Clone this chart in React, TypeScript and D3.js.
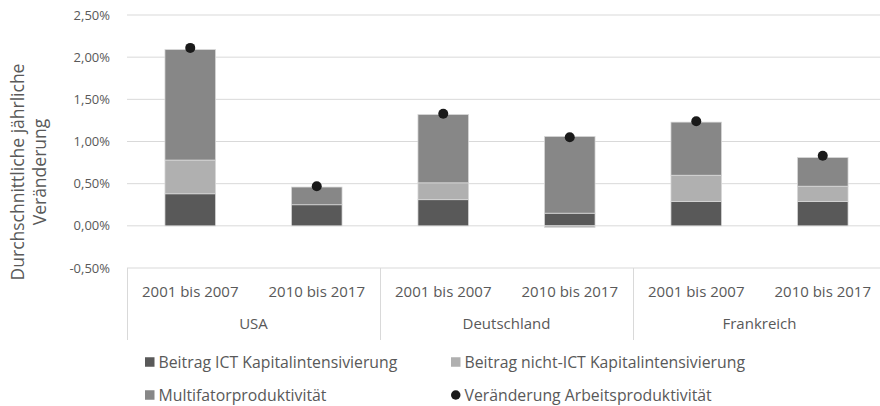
import React from "react";
import * as d3 from "d3";

const countries = ["USA", "Deutschland", "Frankreich"];
const periods = ["2001 bis 2007", "2010 bis 2017"];
const ictValues = [0.38, 0.25, 0.31, 0.15, 0.29, 0.29];
const nonIctValues = [0.40, 0.0, 0.20, -0.02, 0.31, 0.18];
const mfpValues = [1.31, 0.21, 0.81, 0.91, 0.63, 0.34];
const laborProd = [2.11, 0.47, 1.33, 1.05, 1.24, 0.83];
const yTicks = [-0.5, 0, 0.5, 1.0, 1.5, 2.0, 2.5];
const seriesNames = [
  "Beitrag ICT Kapitalintensivierung",
  "Beitrag nicht-ICT Kapitalintensivierung",
  "Multifatorproduktivität",
  "Veränderung Arbeitsproduktivität",
];
const colors = ["#595959", "#b0b0b0", "#878787", "#1a1a1a"];

const W = 880;
const H = 406;
const left = 127;
const right = 886;
const top = 15;
const bottom = 268;
const font = "'Open Sans', Lato, sans-serif";
const textColor = "#595959";

export default function App() {
  const cats = countries.flatMap((c) => periods.map((p) => `${c}|${p}`));
  const x = d3.scaleBand<string>().domain(cats).range([left, right]).paddingInner(0).paddingOuter(0);
  const y = d3.scaleLinear().domain([-0.5, 2.5]).range([bottom, top]);
  const barW = x.bandwidth() * 0.4;
  const fmt = (v: number) => d3.format(".2f")(v).replace(".", ",").replace("−", "-") + "%";

  const stacks = cats.map((c, i) => {
    const vals = [ictValues[i], nonIctValues[i], mfpValues[i]];
    let pos = 0;
    let neg = 0;
    return vals.map((v, k) => {
      let y0: number, y1: number;
      if (v >= 0) {
        y0 = pos;
        y1 = pos + v;
        pos = y1;
      } else {
        y0 = neg + v;
        y1 = neg;
        neg = y0;
      }
      return { k, y0, y1 };
    });
  });

  const groupW = x.bandwidth() * periods.length;

  return (
    <svg width={W} height={H} style={{ position: "absolute", left: 0, top: 0, fontFamily: font }}>
      <rect width={W} height={H} fill="#fff" />
      {yTicks.map((t) => (
        <g key={t}>
          {t !== -0.5 && (
            <line x1={left} x2={right} y1={y(t)} y2={y(t)} stroke="#d9d9d9" strokeWidth={1} />
          )}
          <text x={110} y={y(t)} dy="0.35em" textAnchor="end" fontSize={13} fill={textColor}>
            {fmt(t)}
          </text>
        </g>
      ))}
      {/* category axis box */}
      <line x1={left} x2={right} y1={y(-0.5)} y2={y(-0.5)} stroke="#d9d9d9" />
      {countries.map((c, gi) => (
        <line
          key={"sep" + c}
          x1={left + gi * groupW + 0.5}
          x2={left + gi * groupW + 0.5}
          y1={bottom}
          y2={340}
          stroke="#d9d9d9"
        />
      ))}
      {cats.map((c, i) => (
        <text
          key={"pl" + c}
          x={(x(c) as number) + x.bandwidth() / 2}
          y={292}
          dy="0.35em"
          textAnchor="middle"
          fontSize={15}
          fill={textColor}
        >
          {c.split("|")[1]}
        </text>
      ))}
      {countries.map((c, gi) => (
        <text
          key={"cl" + c}
          x={left + gi * groupW + groupW / 2}
          y={324}
          dy="0.35em"
          textAnchor="middle"
          fontSize={15}
          fill={textColor}
        >
          {c}
        </text>
      ))}
      {/* bars */}
      {stacks.map((segs, i) =>
        segs.map((s) => (
          <rect
            key={`b${i}-${s.k}`}
            x={(x(cats[i]) as number) + (x.bandwidth() - barW) / 2}
            y={y(s.y1)}
            width={barW}
            height={Math.max(0, y(s.y0) - y(s.y1))}
            fill={colors[s.k]}
            stroke="#d9d9d9"
            strokeWidth={0.75}
          />
        ))
      )}
      {laborProd.map((v, i) => (
        <circle
          key={"d" + i}
          cx={(x(cats[i]) as number) + x.bandwidth() / 2}
          cy={y(v)}
          r={5}
          fill={colors[3]}
        />
      ))}
      {/* y title */}
      <g transform={`translate(24, 172) rotate(-90)`}>
        <text x={0} y={0} textAnchor="middle" fontSize={17.5} fill={textColor}>
          Durchschnittliche jährliche
        </text>
        <text x={0} y={22} textAnchor="middle" fontSize={17.5} fill={textColor}>
          Veränderung
        </text>
      </g>
      {/* legend */}
      {seriesNames.map((n, i) => {
        const lx = i % 2 === 0 ? 145 : 451;
        const ly = i < 2 ? 362 : 395;
        return (
          <g key={"lg" + i}>
            {i < 3 ? (
              <rect x={lx} y={ly - 4.75} width={9.5} height={9.5} fill={colors[i]} />
            ) : (
              <circle cx={lx + 4.75} cy={ly} r={4.75} fill={colors[3]} />
            )}
            <text x={lx + 13.5} y={ly} dy="0.35em" fontSize={15.8} fill={textColor}>
              {n}
            </text>
          </g>
        );
      })}
    </svg>
  );
}
